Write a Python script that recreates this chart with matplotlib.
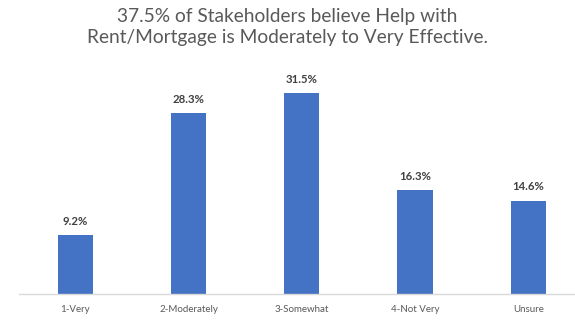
import matplotlib
matplotlib.use("Agg")
import matplotlib.pyplot as plt

categories = ["1-Very", "2-Moderately", "3-Somewhat", "4-Not Very", "Unsure"]
values = [9.2, 28.3, 31.5, 16.3, 14.6]
value_labels = ["9.2%", "28.3%", "31.5%", "16.3%", "14.6%"]
title = "37.5% of Stakeholders believe Help with\nRent/Mortgage is Moderately to Very Effective."

plt.rcParams["font.family"] = ["Lato", "DejaVu Sans"]

W, H = 575, 322
fig = plt.figure(figsize=(W / 100, H / 100), dpi=100)
left, right = 18.5 / W, 1.0
bottom, top = (H - 294) / H, (H - 70) / H
ax = fig.add_axes([left, bottom, right - left, top - bottom])

x = range(len(categories))
ax.bar(x, values, width=0.31, color="#4472C4", zorder=2)
for xi, v, lab in zip(x, values, value_labels):
    ax.annotate(lab, (xi, v), xytext=(0, 6), textcoords="offset points",
                ha="center", va="bottom", fontsize=8.2, fontweight="bold",
                color="#404040")

ax.set_xlim(-0.5, -0.5 + (W - 18.5) / 113.3)
ax.set_ylim(0, 35.1)
ax.set_xticks(list(x))
ax.set_xticklabels(categories, fontsize=7, color="#595959")
ax.tick_params(axis="x", length=0, pad=8)
ax.set_yticks([])
for s in ["top", "right", "left"]:
    ax.spines[s].set_visible(False)
ax.spines["bottom"].set_color("#D9D9D9")
ax.spines["bottom"].set_linewidth(1.0)

fig.text(0.5, 1 - 8 / H, title, ha="center", va="top", fontsize=13.8,
         color="#595959", linespacing=1.25)

fig.savefig("out.png", dpi=100)
